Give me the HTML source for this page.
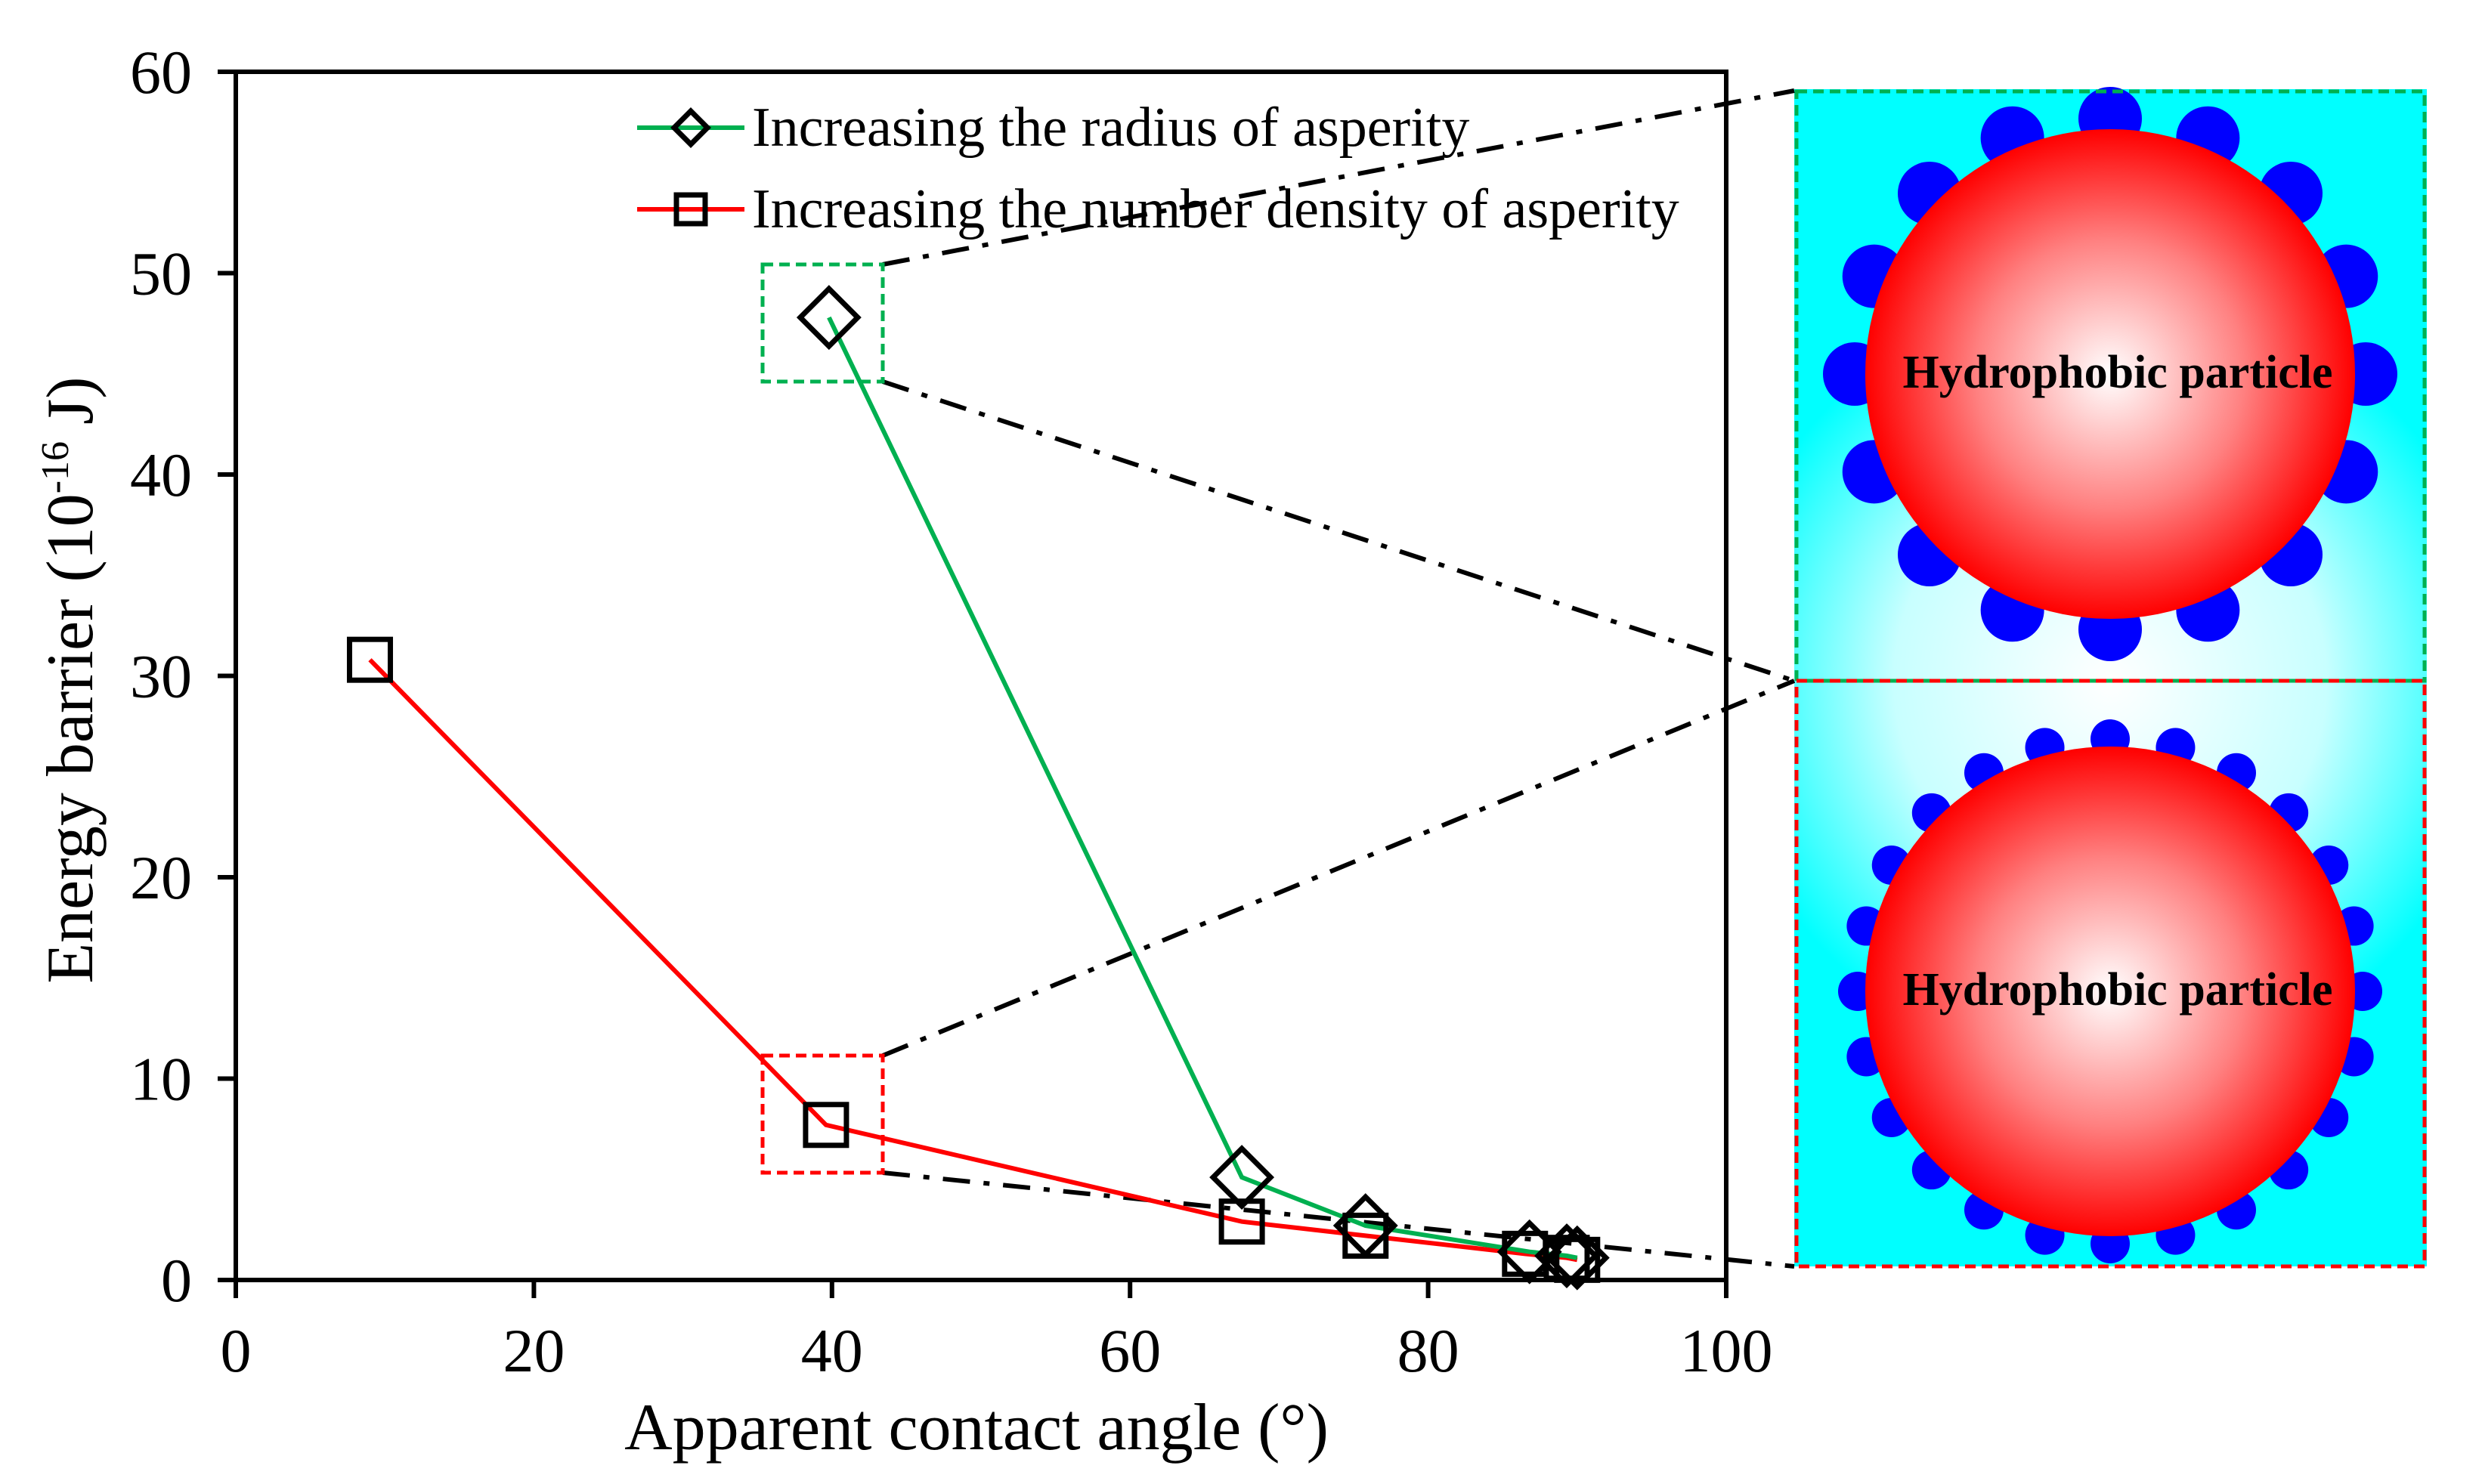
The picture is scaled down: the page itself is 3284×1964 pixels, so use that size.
<!DOCTYPE html>
<html><head><meta charset="utf-8"><style>
html,body{margin:0;padding:0;background:#fff;}
svg{display:block;}
text{font-family:"Liberation Serif",serif;}
</style></head>
<body>
<svg id="chart" width="3284" height="1964" viewBox="0 0 3284 1964" xmlns="http://www.w3.org/2000/svg">
<defs>
<radialGradient id="glow" cx="2792" cy="901" r="520" gradientUnits="userSpaceOnUse">
<stop offset="0" stop-color="#ffffff"/><stop offset="0.55" stop-color="#c8ffff"/><stop offset="1" stop-color="#00ffff"/>
</radialGradient>
<radialGradient id="sphere" cx="0.5" cy="0.5" r="0.5">
<stop offset="0" stop-color="#ffffff"/><stop offset="0.55" stop-color="#ff8080"/><stop offset="1" stop-color="#ff0000"/>
</radialGradient>
</defs>
<g id="inset"></g>
<g id="plot"></g>
</svg>
<script>
const xTicks=[0,20,40,60,80,100];
const yTicks=[0,10,20,30,40,50,60];
const radiusX=[39.8,67.5,75.8,86.8,89.3,90.0];
const radiusY=[47.8,5.1,2.7,1.4,1.2,1.1];
const densityX=[9.0,39.6,67.5,75.8,86.5,89.3,90.0];
const densityY=[30.8,7.7,2.9,2.2,1.3,1.1,1.0];
const NS='http://www.w3.org/2000/svg';
const L=312,R=2284,T=95,B=1694;
const sx=v=>L+(v-0)/(100-0)*(R-L);
const sy=v=>B-(v-0)/(60-0)*(B-T);
function mk(tag,attrs,parent,text){const e=document.createElementNS(NS,tag);for(const k in attrs)e.setAttribute(k,attrs[k]);if(text!==undefined)e.textContent=text;parent.appendChild(e);return e;}
const plot=document.getElementById('plot');
const inset=document.getElementById('inset');
const CX=2792;

const bg=mk('rect',{x:2374,y:118,width:837,height:1558,fill:'url(#glow)'},inset);


function particle(cy,n,ar,ad,label){
  const g=mk('g',{},inset);
  
  
  for(let i=0;i<n;i++){const a=i*2*Math.PI/n;
    const c=mk('circle',{cx:CX+ad*Math.sin(a),cy:cy-ad*Math.cos(a),r:ar,fill:'#0000ff'},g);
    
    }
  const s=mk('circle',{cx:CX,cy:cy,r:324,fill:'url(#sphere)'},g);
  
  
  const t=mk('text',{x:CX+10,y:cy+18,'text-anchor':'middle','font-size':62,'font-weight':'bold',fill:'#000'},g,'Hydrophobic particle');
  
  
}
particle(495,16,42,338,'large-asperity-particle');
particle(1312,24,26,334,'small-asperity-particle');
const gb=mk('rect',{x:2377,y:121,width:831,height:780,fill:'none',stroke:'#00b050','stroke-width':5,'stroke-dasharray':'14,8'},inset);


const rb=mk('rect',{x:2377,y:901,width:831,height:775,fill:'none',stroke:'#ff0000','stroke-width':5,'stroke-dasharray':'14,8'},inset);



const conns=[[1168,350,2374,120],[1168,505,2374,901],[1168,1397,2374,901],[1168,1552,2374,1676]];
conns.forEach(c=>{const l=mk('line',{x1:c[0],y1:c[1],x2:c[2],y2:c[3],stroke:'#000','stroke-width':6,'stroke-dasharray':'36,18,8,18'},plot);

});

const fr=mk('rect',{x:L,y:T,width:R-L,height:B-T,fill:'none',stroke:'#000','stroke-width':6},plot);


xTicks.forEach(v=>{const x=sx(v);
  const t=mk('line',{x1:x,y1:B,x2:x,y2:B+24,stroke:'#000','stroke-width':6},plot);
  
  
  const lb=mk('text',{x:x,y:1815,'text-anchor':'middle','font-size':82},plot,String(v));
  
  });
yTicks.forEach(v=>{const y=sy(v);
  const t=mk('line',{x1:L-24,y1:y,x2:L,y2:y,stroke:'#000','stroke-width':6},plot);
  
  
  const lb=mk('text',{x:254,y:y+28,'text-anchor':'end','font-size':82},plot,String(v));
  
  });
const xt=mk('text',{x:1292,y:1918,'text-anchor':'middle','font-size':88},plot,'Apparent contact angle (°)');


const yt=mk('text',{x:0,y:0,'text-anchor':'middle','font-size':88,transform:'translate(122,900) rotate(-90)'},plot);


yt.innerHTML='Energy barrier (10<tspan dy="-32" font-size="52">-16</tspan><tspan dy="32"> J)</tspan>';

const zg=mk('rect',{x:1009,y:350,width:159,height:155,fill:'none',stroke:'#00b050','stroke-width':5,'stroke-dasharray':'14,8'},plot);


const zr=mk('rect',{x:1009,y:1397,width:159,height:155,fill:'none',stroke:'#ff0000','stroke-width':5,'stroke-dasharray':'14,8'},plot);



function diamond(x,y,s,parent){return mk('path',{d:`M${x},${y-s}L${x+s},${y}L${x},${y+s}L${x-s},${y}Z`,fill:'none',stroke:'#000','stroke-width':7},parent);}
function square(x,y,s,parent){return mk('rect',{x:x-s,y:y-s,width:2*s,height:2*s,fill:'none',stroke:'#000','stroke-width':7},parent);}

const rl=mk('polyline',{points:densityX.map((v,i)=>sx(v)+','+sy(densityY[i])).join(' '),fill:'none',stroke:'#ff0000','stroke-width':6},plot);


const gl=mk('polyline',{points:radiusX.map((v,i)=>sx(v)+','+sy(radiusY[i])).join(' '),fill:'none',stroke:'#00b050','stroke-width':6},plot);


densityX.forEach((v,i)=>{const m=square(sx(v),sy(densityY[i]),27,plot);
  
  });
radiusX.forEach((v,i)=>{const m=diamond(sx(v),sy(radiusY[i]),38,plot);
  
  });

const lg=mk('g',{},plot);


const l1=mk('line',{x1:843,y1:169,x2:985,y2:169,stroke:'#00b050','stroke-width':6},lg);


const d1=diamond(914,169,22,lg);


const t1=mk('text',{x:995,y:193,'font-size':74},lg,'Increasing the radius of asperity');


const l2=mk('line',{x1:843,y1:277,x2:985,y2:277,stroke:'#ff0000','stroke-width':6},lg);


const s2=square(914,277,19,lg);


const t2=mk('text',{x:995,y:301,'font-size':74},lg,'Increasing the number density of asperity');


</script>
</body></html>
